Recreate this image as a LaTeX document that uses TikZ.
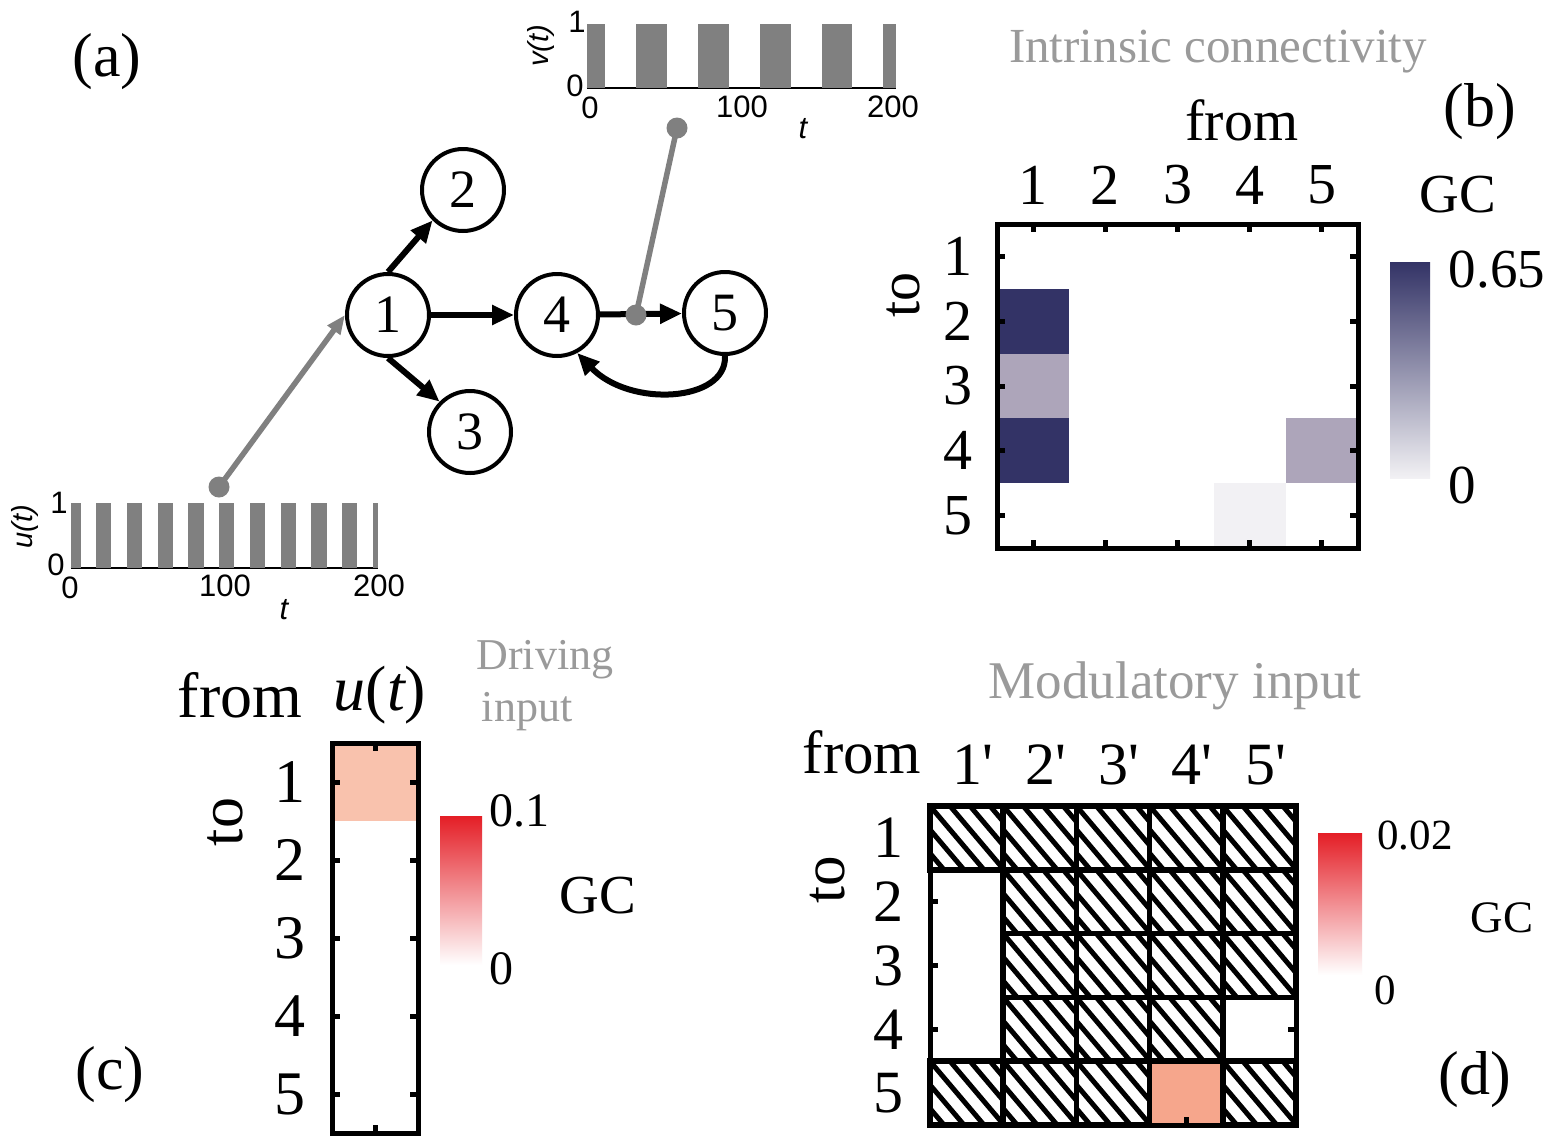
\documentclass[tikz,border=0pt]{standalone}
\usepackage{fontspec}
\setmainfont{Liberation Serif}
\newfontfamily\plotfont{Liberation Sans}
\usetikzlibrary{arrows.meta}
\definecolor{navy}{HTML}{333366}
\definecolor{lav}{HTML}{ADA5BA}
\definecolor{pale}{HTML}{F2F1F4}
\definecolor{salmonA}{HTML}{F9C2AD}
\definecolor{salmonB}{HTML}{F6A68C}
\definecolor{cbred}{HTML}{E41E26}
\definecolor{cbmid}{HTML}{F08A6A}
\definecolor{gry}{HTML}{808080}
\definecolor{titlegray}{HTML}{9A9A9A}
\begin{document}
\begin{tikzpicture}[x=1pt,y=-1pt,
  vnode/.style={circle,draw,line width=4pt,minimum size=82pt,inner sep=0pt,font=\fontsize{54}{60}\selectfont},
  blk/.style={line width=6pt,-{Triangle[length=22pt,width=19pt]}},
  gline/.style={draw=gry,line width=5.5pt},
  frame/.style={line width=5pt},
  tickm/.style={line width=5pt},
  lbl/.style={inner sep=0pt,font=\fontsize{#1}{#1}\selectfont},
  ttl/.style={inner sep=0pt,text=titlegray,font=\fontsize{#1}{#1}\selectfont},
  pl/.style={inner sep=0pt,font=\plotfont\fontsize{#1}{#1}\selectfont},
]
\useasboundingbox (0,0) rectangle (1550,1144);
\fill[white] (0,0) rectangle (1550,1144);

% ---------------- (a) ----------------
\node[lbl=62] (la) at (107,62) {(a)};

% u(t) plot
\draw[line width=1.5pt] (70.7,568) -- (378,568);
\foreach \k in {0,...,10} {
  \pgfmathsetmacro\ta{max(0,20*\k-3.5)}
  \pgfmathsetmacro\tb{min(200,20*\k+6.5)}
  \fill[gry] ({70.7+\ta*1.537},503) rectangle ({70.7+\tb*1.537},568);
}
\node[pl=31] (u1) at (59,503) {1};
\node[pl=31] (u0) at (56,565) {0};
\node[pl=31] (ux0) at (70,588) {0};
\node[pl=31] (ux1) at (225,586) {100};
\node[pl=31] (ux2) at (379,586) {200};
\node[pl=31] (ut) at (284,610) {\itshape t};
\node[pl=29,rotate=90] (uy) at (25,527) {\itshape u(t)};

% v(t) plot
\draw[line width=1.5pt] (586.7,88) -- (895.7,88);
\foreach \k in {0,...,5} {
  \pgfmathsetmacro\ta{max(0,40*\k-8)}
  \pgfmathsetmacro\tb{min(200,40*\k+12)}
  \fill[gry] ({586.7+\ta*1.545},24) rectangle ({586.7+\tb*1.545},88);
}
\node[pl=31] (v1) at (577,22) {1};
\node[pl=31] (v0) at (575,86) {0};
\node[pl=31] (vx0) at (590,108) {0};
\node[pl=31] (vx1) at (742,107) {100};
\node[pl=31] (vx2) at (893,107) {200};
\node[pl=31] (vt) at (803,129) {\itshape t};
\node[pl=29,rotate=90] (vy) at (541,46) {\itshape v(t)};

% graph
\node[vnode] (n1) at (388,315) {1};
\node[vnode] (n2) at (463,190) {2};
\node[vnode] (n3) at (470,432) {3};
\node[vnode] (n4) at (557,315) {4};
\node[vnode] (n5) at (725,313) {5};
\draw[blk] (n1.north) -- (n2.south west);
\draw[blk] (n1.south) -- (n3.north west);
\draw[blk] (n1) -- (n4);
\draw[blk] (n4) -- (n5);
\draw[blk] (n5.south) .. controls (727,402) and (630,408) .. (n4.-62);

\coordinate (ud) at (219,487);
\coordinate (vd) at (677,128);
\coordinate (md) at (636,315);
\draw[gline,-{Triangle[length=19pt,width=15pt]},color=gry] (ud) -- (n1.west);
\fill[gry] (ud) circle (10.5);
\draw[gline] (vd) -- (md);
\fill[gry] (vd) circle (10.5);
\fill[gry] (md) circle (10.5);

% ---------------- (b) ----------------
\node[ttl=49] (tb) at (1218,52) {Intrinsic connectivity};
\node[lbl=58] (fb) at (1242,120) {from};
\node[lbl=62] (lb) at (1480,112) {(b)};
\node[lbl=55] (gcb) at (1458,195) {GC};
\node[lbl=58,rotate=90] (tob) at (903,295) {to};
\fill[navy] (997,288.8) rectangle ++(72.2,64.8);
\fill[lav]  (997,353.6) rectangle ++(72.2,64.8);
\fill[navy] (997,418.4) rectangle ++(72.2,64.8);
\fill[lav]  (1285.8,418.4) rectangle ++(72.2,64.8);
\fill[pale] (1213.6,483.2) rectangle ++(72.2,64.8);
\foreach \i in {1,...,5} {
  \pgfmathsetmacro\cx{997+72.2*(\i-0.5)}
  \pgfmathsetmacro\cy{224+64.8*(\i-0.5)}
  \draw[tickm] (\cx,224) -- ++(0,8);
  \draw[tickm] (\cx,548) -- ++(0,-8);
  \draw[tickm] (997,\cy) -- ++(8,0);
  \draw[tickm] (1358,\cy) -- ++(-8,0);
  \node[lbl=58] (bc\i) at (\cx,185) {\i};
  \node[lbl=58] (br\i) at (958,\cy) {\i};
}
\draw[frame] (997,224) rectangle (1358,548);
\shade[top color=navy,bottom color=pale] (1390,262) rectangle (1430,478);
\node[lbl=55] (b065) at (1497,270) {0.65};
\node[lbl=55] (b0) at (1462,485) {0};

% ---------------- (c) ----------------
\node[lbl=64] (fc) at (240,695) {from};
\node[lbl=64] (uc) at (380,695) {{\itshape u}({\itshape t})};
\node[ttl=44] (dc1) at (545,660) {Driving};
\node[ttl=44] (dc2) at (527,712) {input};
\node[lbl=62,rotate=90] (toc) at (225,822) {to};
\fill[salmonA] (332,743) rectangle (418,821);
\draw[tickm] (375,743) -- ++(0,8);
\draw[tickm] (375,1133) -- ++(0,-8);
\foreach \i in {1,...,5} {
  \pgfmathsetmacro\cy{743+78*(\i-0.5)}
  \draw[tickm] (332,\cy) -- ++(8,0);
  \draw[tickm] (418,\cy) -- ++(-8,0);
  \node[lbl=62] (cr\i) at (290,\cy) {\i};
}
\draw[frame] (332,743) rectangle (418,1133);
\shade[top color=cbred,middle color=cbmid,bottom color=white] (440,816) rectangle (482,965);
\node[lbl=48] (c01) at (519,811) {0.1};
\node[lbl=48] (c0) at (501,969) {0};
\node[lbl=55] (gcc) at (598,896) {GC};
\node[lbl=62] (lc) at (110,1075) {(c)};

% ---------------- (d) ----------------
\node[ttl=53] (td) at (1175,686) {Modulatory input};
\node[lbl=61] (fd) at (862,752) {from};
\node[lbl=61,rotate=90] (tod) at (828,880) {to};
\foreach \i in {1,...,5} {
  \pgfmathsetmacro\cx{930+73.2*(\i-0.5)+6}
  \pgfmathsetmacro\cy{806+63.8*(\i-0.5)}
  \node[lbl=60] (dc\i) at (\cx,765) {\i\textquotesingle};
  \node[lbl=60] (dr\i) at (888,\cy) {\i};
}
\fill[salmonB] (1149.6,1061.2) rectangle ++(73.2,63.8);
\foreach \r/\c in {1/1,1/2,1/3,1/4,1/5,2/2,2/3,2/4,2/5,3/2,3/3,3/4,3/5,4/2,4/3,4/4,5/1,5/2,5/3,5/5} {
  \pgfmathsetmacro\xa{930+73.2*(\c-1)}
  \pgfmathsetmacro\ya{806+63.8*(\r-1)}
  \begin{scope}
    \clip (\xa,\ya) rectangle ++(73.2,63.8);
    \foreach \k in {-3,...,4} \draw[line width=5pt] ({\xa+\k*20},\ya) -- ++(54,63.8);
  \end{scope}
  \draw[line width=5.5pt] (\xa,\ya) rectangle ++(73.2,63.8);
}
\foreach \i in {2,3,4} {
  \pgfmathsetmacro\cy{806+63.8*(\i-0.5)}
  \draw[tickm] (930,\cy) -- ++(8,0);
}
\draw[tickm] (1296,1029.3) -- ++(-8,0);
\draw[tickm] (1186.2,1125) -- ++(0,-8);
\draw[frame] (930,806) rectangle (1296,1125);
\shade[top color=cbred,middle color=cbmid,bottom color=white] (1318,833) rectangle (1362,975);
\node[lbl=43] (d002) at (1415,835) {0.02};
\node[lbl=43] (d0) at (1385,990) {0};
\node[lbl=45] (gcd) at (1502,918) {GC};
\node[lbl=62] (ld) at (1475,1080) {(d)};
\end{tikzpicture}
\end{document}
